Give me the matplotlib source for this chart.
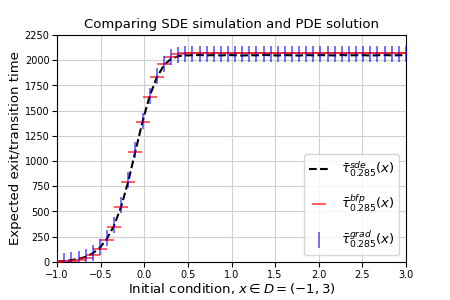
import numpy as np
import matplotlib
matplotlib.use("Agg")
import matplotlib.pyplot as plt

x_vals = [-1.000, -0.918, -0.837, -0.755, -0.673, -0.592, -0.510, -0.429, -0.347, -0.265,
          -0.184, -0.102, -0.020, 0.061, 0.143, 0.224, 0.306, 0.388, 0.469, 0.551,
          0.633, 0.714, 0.796, 0.878, 0.959, 1.041, 1.122, 1.204, 1.286, 1.367,
          1.449, 1.531, 1.612, 1.694, 1.776, 1.857, 1.939, 2.020, 2.102, 2.184,
          2.265, 2.347, 2.429, 2.510, 2.592, 2.673, 2.755, 2.837, 2.918, 3.000]

tau_bfp = [0, 5, 12, 22, 38, 70, 130, 215, 345, 540,
           790, 1094, 1390, 1640, 1834, 1967, 2034, 2060, 2068, 2070,
           2070, 2070, 2070, 2070, 2070, 2070, 2070, 2070, 2070, 2070,
           2070, 2070, 2070, 2070, 2070, 2070, 2070, 2070, 2070, 2070,
           2070, 2070, 2070, 2070, 2070, 2070, 2070, 2070, 2070, 2070]

tau_sde = [0, 8, 18, 30, 50, 85, 140, 230, 360, 550,
           800, 1100, 1395, 1645, 1830, 1950, 2015, 2040, 2048, 2050,
           2052, 2049, 2051, 2048, 2052, 2050, 2047, 2051, 2049, 2053,
           2050, 2048, 2051, 2050, 2047, 2052, 2049, 2051, 2050, 2048,
           2052, 2049, 2050, 2051, 2047, 2050, 2052, 2049, 2050, 2051]

tau_grad = [5, 12, 20, 32, 50, 85, 150, 235, 365, 560,
            810, 1110, 1400, 1650, 1840, 1965, 2030, 2055, 2060, 2060,
            2060, 2060, 2060, 2060, 2060, 2060, 2060, 2060, 2060, 2060,
            2060, 2060, 2060, 2060, 2060, 2060, 2060, 2060, 2060, 2060,
            2060, 2060, 2060, 2060, 2060, 2060, 2060, 2060, 2060, 2060]

fig = plt.figure(figsize=(4.5, 3.0), dpi=100)
ax = fig.add_axes([0.127, 0.127, 0.775, 0.756])

ax.plot(x_vals, tau_sde, 'k--', lw=1.5, label=r'$\bar{\tau}^{sde}_{0.285}(x)$', zorder=3)
ax.plot(x_vals, tau_bfp, linestyle='none', marker='_', color='red', ms=10, mew=1.1,
        alpha=0.8, label=r'$\bar{\tau}^{bfp}_{0.285}(x)$', zorder=4)
ax.plot(x_vals, tau_grad, linestyle='none', marker='|', color='blue', ms=11, mew=1.1,
        alpha=0.7, label=r'$\bar{\tau}^{grad}_{0.285}(x)$', zorder=5)

ax.set_xlim(-1, 3)
ax.set_ylim(0, 2250)
ax.set_xticks(np.arange(-1.0, 3.01, 0.5))
ax.set_yticks(np.arange(0, 2251, 250))
ax.tick_params(labelsize=7, pad=2)
ax.grid(True, color='#d0d0d0', lw=0.8)

ax.set_title('Comparing SDE simulation and PDE solution', fontsize=9.5, pad=5)
ax.set_xlabel(r'Initial condition, $x \in D = (-1, 3)$', fontsize=9.5, labelpad=1)
ax.set_ylabel('Expected exit/transition time', fontsize=9.5, labelpad=2)

ax.legend(loc='lower right', fontsize=9.5, labelspacing=1.1, handlelength=1.6)

fig.savefig('out.png', dpi=100)
